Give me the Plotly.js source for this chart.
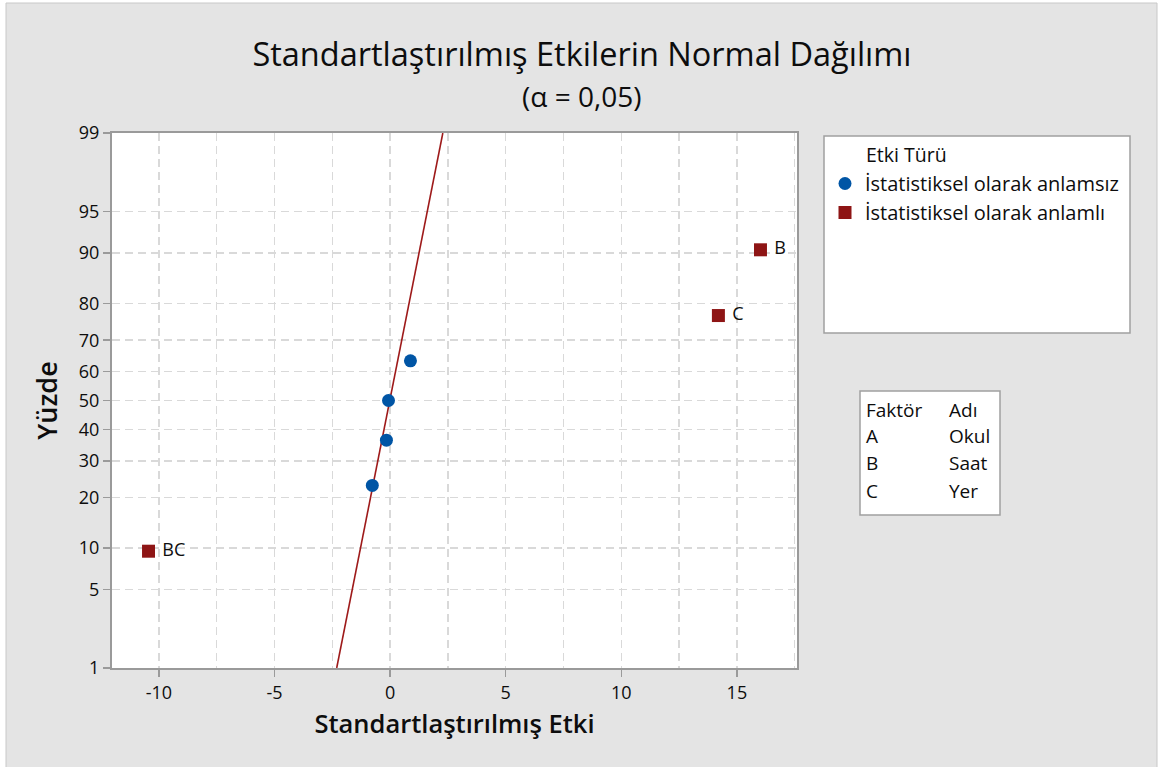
<!DOCTYPE html>
<html>
<head>
<meta charset="utf-8">
<script src="https://cdn.plot.ly/plotly-3.0.1.min.js"></script>
<style>
  html, body { margin: 0; padding: 0; background: #ffffff; }
  #chart { width: 1170px; height: 767px; }
</style>
</head>
<body>
<div id="chart"></div>
<script>
// ---- data ----
const insigEffect = [-0.77, -0.16, -0.07, 0.88];
const insigPct    = [23.0, 36.5, 50.0, 63.5];
const sigLabels   = ['BC', 'C', 'B'];
const sigEffect   = [-10.45, 14.2, 16.02];
const sigPct      = [9.5, 77.0, 90.5];
const fitEffect   = [-2.31, 2.28];
const fitPct      = [1, 99];
const yTickPct    = [1, 5, 10, 20, 30, 40, 50, 60, 70, 80, 90, 95, 99];
const xTickVals   = [-10, -5, 0, 5, 10, 15];
const factorCodes = ['A', 'B', 'C'];
const factorNames = ['Okul', 'Saat', 'Yer'];
const seriesNames = ['İstatistiksel olarak anlamsız', 'İstatistiksel olarak anlamlı'];

// normal probability scale: percent -> standard normal quantile
function probit(p) {
  const a = [-3.969683028665376e+01, 2.209460984245205e+02, -2.759285104469687e+02, 1.383577518672690e+02, -3.066479806614716e+01, 2.506628277459239e+00];
  const b = [-5.447609879822406e+01, 1.615858368580409e+02, -1.556989798598866e+02, 6.680131188771972e+01, -1.328068155288572e+01];
  const c = [-7.784894002430293e-03, -3.223964580411365e-01, -2.400758277161838e+00, -2.549732539343734e+00, 4.374664141464968e+00, 2.938163982698783e+00];
  const d = [7.784695709041462e-03, 3.224671290700398e-01, 2.445134137142996e+00, 3.754408661907416e+00];
  const pl = 0.02425, ph = 1 - pl;
  let q, r;
  if (p < pl) {
    q = Math.sqrt(-2 * Math.log(p));
    return (((((c[0]*q+c[1])*q+c[2])*q+c[3])*q+c[4])*q+c[5]) / ((((d[0]*q+d[1])*q+d[2])*q+d[3])*q+1);
  } else if (p <= ph) {
    q = p - 0.5; r = q * q;
    return (((((a[0]*r+a[1])*r+a[2])*r+a[3])*r+a[4])*r+a[5])*q / (((((b[0]*r+b[1])*r+b[2])*r+b[3])*r+b[4])*r+1);
  } else {
    q = Math.sqrt(-2 * Math.log(1 - p));
    return -(((((c[0]*q+c[1])*q+c[2])*q+c[3])*q+c[4])*q+c[5]) / ((((d[0]*q+d[1])*q+d[2])*q+d[3])*q+1);
  }
}
const z = arr => arr.map(v => probit(v / 100));

const FONT = '"Open Sans", "Noto Sans", sans-serif';
const INK = '#0d0d0d';
const BLUE = '#0055a5';
const RED = '#8e1515';

// pixel geometry of the plot area (for paper-coordinate decorations)
const L = 112, R = 797, T = 133, B = 668;
const px = x => (x - L) / (R - L);
const py = y => (B - y) / (B - T);

const traces = [
  {
    x: fitEffect, y: z(fitPct), type: 'scatter', mode: 'lines',
    line: { color: '#9e1a1a', width: 1.6 }, showlegend: false, hoverinfo: 'skip'
  },
  {
    x: insigEffect, y: z(insigPct), type: 'scatter', mode: 'markers',
    name: seriesNames[0],
    marker: { symbol: 'circle', size: 13, color: BLUE }
  },
  {
    x: sigEffect, y: z(sigPct), type: 'scatter', mode: 'markers+text',
    name: seriesNames[1], text: sigLabels, texttemplate: ' %{text}', textposition: 'middle right',
    textfont: { family: FONT, size: 18, color: INK },
    marker: { symbol: 'square', size: 13, color: RED }
  }
];

const annotations = [
  { xref: 'paper', yref: 'paper', x: px(581), y: py(96), text: '(α = 0,05)',
    showarrow: false, xanchor: 'center', yanchor: 'middle',
    font: { family: FONT, size: 28, color: INK } },
  { xref: 'paper', yref: 'paper', x: px(864), y: py(154), text: 'Etki Türü',
    showarrow: false, xanchor: 'left', yanchor: 'middle',
    font: { family: FONT, size: 19.5, color: INK } },
  { xref: 'paper', yref: 'paper', x: px(864), y: py(410), text: 'Faktör',
    showarrow: false, xanchor: 'left', yanchor: 'middle',
    font: { family: FONT, size: 19, color: INK } },
  { xref: 'paper', yref: 'paper', x: px(947), y: py(410), text: 'Adı',
    showarrow: false, xanchor: 'left', yanchor: 'middle',
    font: { family: FONT, size: 19, color: INK } }
];
const rowY = [436, 463, 491];
factorCodes.forEach((code, i) => {
  annotations.push({ xref: 'paper', yref: 'paper', x: px(864), y: py(rowY[i]), text: code,
    showarrow: false, xanchor: 'left', yanchor: 'middle',
    font: { family: FONT, size: 19, color: INK } });
  annotations.push({ xref: 'paper', yref: 'paper', x: px(947), y: py(rowY[i]), text: factorNames[i],
    showarrow: false, xanchor: 'left', yanchor: 'middle',
    font: { family: FONT, size: 19, color: INK } });
});

const shapes = [
  // grey panel
  { type: 'rect', xref: 'paper', yref: 'paper', layer: 'below',
    x0: px(6), x1: px(1157), y0: py(3), y1: py(790),
    fillcolor: '#e4e4e4', line: { color: '#c8c8c8', width: 1 } },
  // white plot area
  { type: 'rect', xref: 'paper', yref: 'paper', layer: 'below',
    x0: 0, x1: 1, y0: 0, y1: 1, fillcolor: '#ffffff', line: { width: 0 } },
  // legend box
  { type: 'rect', xref: 'paper', yref: 'paper', layer: 'below',
    x0: px(824), x1: px(1130), y0: py(333), y1: py(136),
    fillcolor: '#ffffff', line: { color: '#a0a0a0', width: 1.5 } },
  // factor table box
  { type: 'rect', xref: 'paper', yref: 'paper', layer: 'below',
    x0: px(860), x1: px(1000), y0: py(515), y1: py(391),
    fillcolor: '#ffffff', line: { color: '#a0a0a0', width: 1.5 } }
];

const layout = {
  width: 1170, height: 767,
  margin: { l: L, r: 1170 - R, t: T, b: 767 - B, pad: 0 },
  paper_bgcolor: '#ffffff',
  plot_bgcolor: 'rgba(0,0,0,0)',
  font: { family: FONT, color: INK },
  title: {
    text: 'Standartlaştırılmış Etkilerin Normal Dağılımı',
    font: { family: FONT, size: 32.5, color: INK },
    x: 582 / 1170, xref: 'container', xanchor: 'center',
    y: 1 - 55 / 767, yref: 'container', yanchor: 'middle'
  },
  xaxis: {
    range: [-12.03, 17.6],
    tickmode: 'array', tickvals: xTickVals, ticktext: xTickVals.map(String),
    ticks: 'outside', ticklen: 7, tickwidth: 1.5, tickcolor: '#9a9a9a',
    tickfont: { family: FONT, size: 18, color: INK },
    showline: true, mirror: true, linecolor: '#9a9a9a', linewidth: 2,
    showgrid: true, gridcolor: '#d9d9d9', gridwidth: 1.5, griddash: '8px,5px',
    minor: { tick0: 0, dtick: 2.5, showgrid: true, gridcolor: '#d9d9d9', gridwidth: 1.5, griddash: '8px,5px', ticks: '' },
    zeroline: false,
    title: { text: 'Standartlaştırılmış Etki', standoff: 13,
      font: { family: FONT, size: 25.5, color: INK, weight: 600 } }
  },
  yaxis: {
    range: [probit(0.01), probit(0.99)],
    tickmode: 'array', tickvals: z(yTickPct), ticktext: yTickPct.map(String),
    ticks: 'outside', ticklen: 7, tickwidth: 1.5, tickcolor: '#9a9a9a',
    tickfont: { family: FONT, size: 18, color: INK },
    showline: true, mirror: true, linecolor: '#9a9a9a', linewidth: 2,
    showgrid: true, gridcolor: '#d9d9d9', gridwidth: 1.5, griddash: '8px,5px',
    zeroline: false,
    title: { text: 'Yüzde', standoff: 13,
      font: { family: FONT, size: 27, color: INK, weight: 600 } }
  },
  showlegend: true,
  legend: {
    x: px(825), xanchor: 'left', y: py(164), yanchor: 'top',
    bgcolor: 'rgba(0,0,0,0)', borderwidth: 0,
    font: { family: FONT, size: 20, color: INK },
    tracegroupgap: 0
  },
  annotations: annotations,
  shapes: shapes
};

Plotly.newPlot('chart', traces, layout, { displayModeBar: false, staticPlot: true });
</script>
</body>
</html>
